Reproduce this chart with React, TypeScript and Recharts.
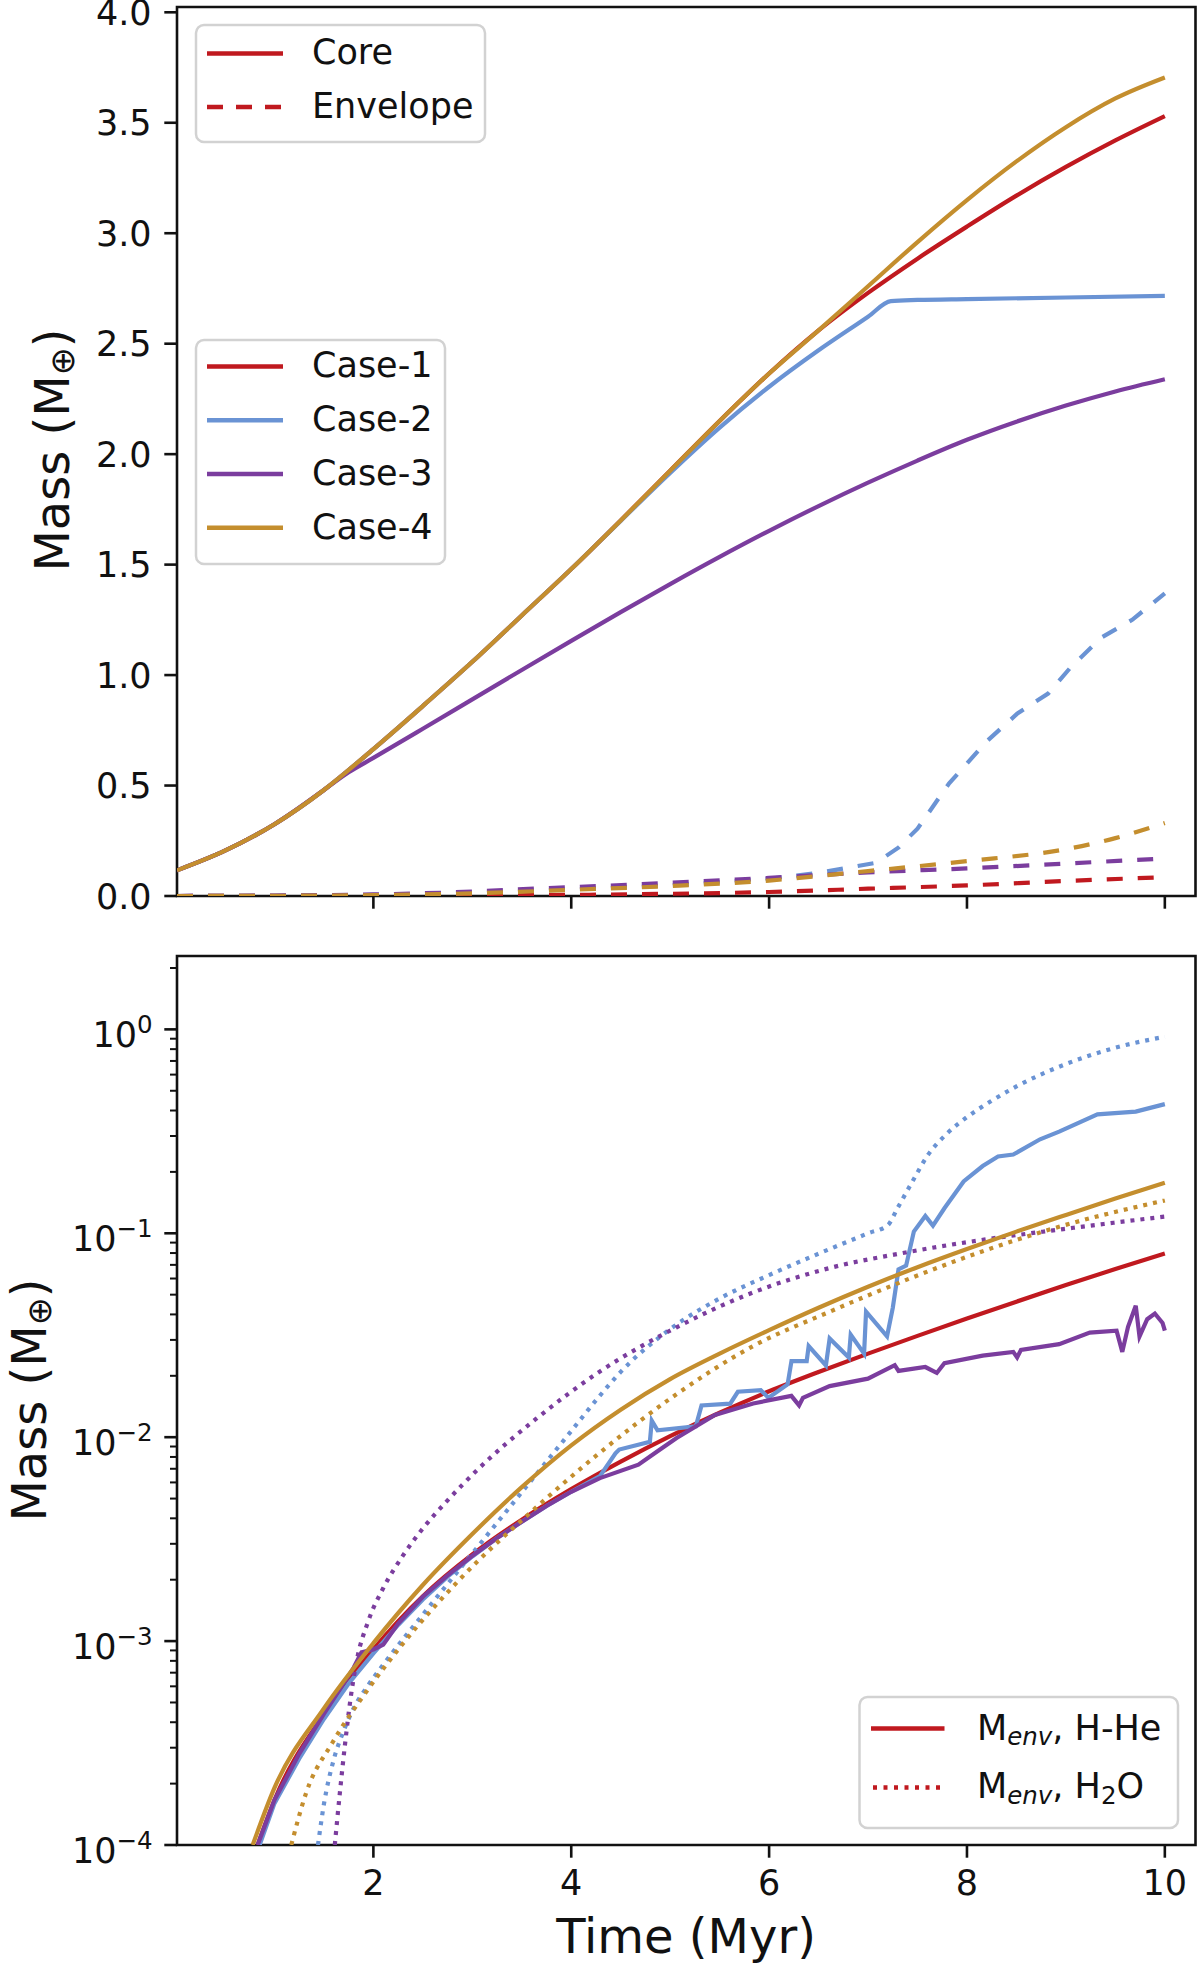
import React from 'react'
import { LineChart, Line, XAxis, YAxis, ReferenceArea } from 'recharts'

const FONT = 'DejaVu Sans'
const INK = '#111'
const RED = '#c0191f'
const BLUE = '#6a93d4'
const PURPLE = '#7b3d9e'
const GOLD = '#c48e2e'

const X_MIN = 0.015
const X_MAX = 10.31
const TOP_MAX = 4.024
const LOG_MIN = 1e-4
const LOG_MAX = 2.29

const timeTicks = [2, 4, 6, 8, 10]
const massTicks = [0, 0.5, 1, 1.5, 2, 2.5, 3, 3.5, 4]
const decades = [-4, -3, -2, -1, 0]
const mantissas = [1, 2, 3, 4, 5, 6, 7, 8, 9]
const logTicks = decades.flatMap((d) => mantissas.map((m) => m * 10 ** d)).filter((v) => v <= LOG_MAX)

// top panel, core mass [t (Myr), M_earth]
const core1 = [[0.015, 0.116], [0.5, 0.205], [1, 0.325], [1.5, 0.48], [2, 0.665], [2.5, 0.86], [3, 1.06], [3.5, 1.27], [4, 1.48], [4.5, 1.7], [5, 1.925], [5.5, 2.15], [6, 2.365], [6.5, 2.56], [7, 2.73], [7.5, 2.885], [8, 3.03], [8.5, 3.17], [9, 3.3], [9.5, 3.42], [10, 3.53]]
const core2 = [[0.015, 0.116], [0.5, 0.205], [1, 0.325], [1.5, 0.48], [2, 0.665], [2.5, 0.86], [3, 1.06], [3.5, 1.27], [4, 1.48], [4.5, 1.698], [5, 1.915], [5.5, 2.12], [6, 2.305], [6.5, 2.47], [7, 2.622], [7.23, 2.693], [7.5, 2.698], [8, 2.702], [9, 2.709], [10, 2.716]]
const core3 = [[0.015, 0.116], [0.5, 0.205], [1, 0.325], [1.5, 0.48], [1.75, 0.56], [2, 0.625], [2.5, 0.757], [3, 0.89], [3.5, 1.023], [4, 1.155], [4.5, 1.285], [5, 1.412], [5.5, 1.535], [6, 1.653], [6.5, 1.765], [7, 1.871], [7.5, 1.971], [8, 2.065], [8.5, 2.147], [9, 2.22], [9.5, 2.284], [10, 2.339]]
const core4 = [[0.015, 0.116], [0.5, 0.205], [1, 0.325], [1.5, 0.48], [2, 0.665], [2.5, 0.86], [3, 1.06], [3.5, 1.27], [4, 1.48], [4.5, 1.7], [5, 1.925], [5.5, 2.15], [6, 2.365], [6.5, 2.56], [7, 2.76], [7.5, 2.96], [8, 3.15], [8.5, 3.325], [9, 3.48], [9.5, 3.61], [10, 3.705]]

// top panel, envelope mass
const env1 = [[0.015, 0], [1, 0.001], [2, 0.002], [3, 0.003], [4, 0.005], [5, 0.01], [6, 0.018], [7, 0.033], [8, 0.048], [9, 0.068], [10, 0.085]]
const env2 = [[0.015, 0], [1, 0.001], [2, 0.005], [3, 0.015], [4, 0.03], [5, 0.048], [6, 0.078], [6.5, 0.105], [7.08, 0.15], [7.31, 0.22], [7.5, 0.305], [7.82, 0.51], [8.2, 0.7], [8.51, 0.826], [8.82, 0.916], [9.05, 1.036], [9.36, 1.17], [9.67, 1.25], [10, 1.37]]
const env3 = [[0.015, 0], [1, 0.002], [2, 0.007], [3, 0.02], [3.64, 0.034], [4, 0.04], [5, 0.06], [6, 0.082], [7, 0.107], [8, 0.125], [9, 0.147], [10, 0.17]]
const env4 = [[0.015, 0], [1, 0.001], [2, 0.004], [3, 0.012], [4, 0.028], [5, 0.045], [6, 0.07], [7, 0.113], [8, 0.158], [9, 0.212], [9.5, 0.262], [10, 0.33]]

// bottom panel, H-He envelope
const hhe1 = [[0.83, 1e-4], [1, 1.66e-4], [1.5, 4.37e-4], [2, 9.12e-4], [2.5, 1.66e-3], [3, 2.66e-3], [3.5, 3.94e-3], [4, 5.56e-3], [4.5, 7.59e-3], [5, 1.012e-2], [5.5, 1.318e-2], [6, 1.679e-2], [6.5, 2.089e-2], [7, 2.57e-2], [7.5, 3.14e-2], [8, 3.82e-2], [8.5, 4.62e-2], [9, 5.57e-2], [9.5, 6.68e-2], [10, 7.96e-2]]
const hhe2 = [[0.85, 1e-4], [1, 1.6e-4], [1.25, 2.65e-4], [1.5, 4.15e-4], [1.75, 6.2e-4], [2, 8.7e-4], [2.25, 1.2e-3], [2.5, 1.6e-3], [2.75, 2.07e-3], [3, 2.6e-3], [3.25, 3.2e-3], [3.5, 3.85e-3], [3.75, 4.6e-3], [4, 5.4e-3], [4.29, 6.44e-3], [4.447, 8.34e-3], [4.485, 8.7e-3], [4.795, 9.5e-3], [4.814, 1.205e-2], [4.872, 1.08e-2], [5.259, 1.13e-2], [5.317, 1.43e-2], [5.607, 1.46e-2], [5.684, 1.67e-2], [5.916, 1.7e-2], [5.994, 1.56e-2], [6.187, 1.815e-2], [6.226, 2.36e-2], [6.38, 2.36e-2], [6.4, 2.8e-2], [6.574, 2.25e-2], [6.612, 3.05e-2], [6.806, 2.46e-2], [6.825, 3.18e-2], [6.96, 2.57e-2], [6.98, 4.13e-2], [7.192, 3.12e-2], [7.25, 4.31e-2], [7.308, 6.65e-2], [7.385, 6.94e-2], [7.463, 0.102], [7.579, 0.1216], [7.656, 0.109], [7.772, 0.1327], [7.966, 0.1796], [8.159, 0.2136], [8.314, 0.2382], [8.468, 0.2432], [8.739, 0.289], [8.932, 0.3153], [9.319, 0.383], [9.706, 0.395], [10, 0.43]]
const hhe3 = [[0.83, 1e-4], [1, 1.66e-4], [1.25, 2.8e-4], [1.5, 4.4e-4], [1.7, 6.2e-4], [1.8, 7.4e-4], [1.88, 8.8e-4], [2, 9.1e-4], [2.1, 9.6e-4], [2.25, 1.22e-3], [2.5, 1.65e-3], [2.75, 2.1e-3], [3, 2.62e-3], [3.25, 3.2e-3], [3.5, 3.85e-3], [3.75, 4.6e-3], [4, 5.4e-3], [4.29, 6.3e-3], [4.679, 7.33e-3], [4.872, 8.53e-3], [5.065, 9.9e-3], [5.452, 1.285e-2], [5.839, 1.463e-2], [6.225, 1.595e-2], [6.303, 1.432e-2], [6.342, 1.56e-2], [6.612, 1.78e-2], [6.999, 1.937e-2], [7.27, 2.254e-2], [7.308, 2.113e-2], [7.579, 2.208e-2], [7.695, 2.066e-2], [7.772, 2.305e-2], [8.159, 2.51e-2], [8.468, 2.62e-2], [8.507, 2.46e-2], [8.546, 2.68e-2], [8.932, 2.86e-2], [9.242, 3.26e-2], [9.512, 3.33e-2], [9.57, 2.62e-2], [9.628, 3.48e-2], [9.706, 4.41e-2], [9.744, 3.12e-2], [9.822, 3.79e-2], [9.899, 4.04e-2], [9.977, 3.63e-2], [10, 3.33e-2]]
const hhe4 = [[0.78, 1e-4], [1, 1.905e-4], [1.5, 4.677e-4], [2, 9.772e-4], [2.5, 1.884e-3], [3, 3.35e-3], [3.5, 5.689e-3], [4, 9.12e-3], [4.5, 1.365e-2], [5, 1.928e-2], [5.5, 2.57e-2], [6, 3.35e-2], [6.5, 4.315e-2], [7, 5.47e-2], [7.5, 6.82e-2], [8, 8.375e-2], [8.5, 0.1019], [9, 0.123], [9.5, 0.148], [10, 0.177]]

// bottom panel, H2O envelope
const h2o2 = [[1.44, 1e-4], [1.5, 1.585e-4], [1.6, 2.63e-4], [1.7, 3.63e-4], [1.8, 4.68e-4], [1.95, 6.1e-4], [2.1, 7.67e-4], [2.5, 1.349e-3], [3, 2.69e-3], [3.5, 5.37e-3], [4, 1.072e-2], [4.29, 1.6e-2], [4.5, 2.09e-2], [5, 3.39e-2], [5.5, 4.79e-2], [6, 6.24e-2], [6.5, 7.94e-2], [7, 0.1], [7.2, 0.1096], [7.3, 0.1334], [7.45, 0.1799], [7.6, 0.2399], [7.8, 0.309], [8, 0.3715], [8.25, 0.4467], [8.5, 0.5248], [9, 0.676], [9.5, 0.813], [10, 0.92]]
const h2o3 = [[1.61, 1e-4], [1.66, 1.778e-4], [1.71, 3.02e-4], [1.77, 5.25e-4], [1.83, 7.94e-4], [1.95, 1.259e-3], [2.1, 1.82e-3], [2.3, 2.63e-3], [2.48, 3.47e-3], [2.75, 4.9e-3], [3.06, 6.98e-3], [3.64, 1.225e-2], [4.29, 2.1e-2], [5.06, 3.45e-2], [5.84, 5.13e-2], [6.61, 6.75e-2], [7.38, 8.05e-2], [8.16, 9.29e-2], [8.93, 0.1042], [10, 0.1208]]
const h2o4 = [[1.17, 1e-4], [1.32, 1.8e-4], [1.59, 3.2e-4], [1.9, 5.4e-4], [2.29, 9.6e-4], [2.87, 2.0e-3], [3.64, 4.5e-3], [4.29, 8.4e-3], [5.06, 1.62e-2], [5.84, 2.8e-2], [6.61, 4.12e-2], [7.38, 5.89e-2], [8.16, 8.17e-2], [8.93, 0.1076], [10, 0.145]]

const rows = (pts: number[][]) => pts.map(([t, v]) => ({ t, v }))

const TICK = 12.7
const MINOR = 7
const PAD = 12.7
const FS = 35

function MassTick({ x = 0, y = 0, payload }: any) {
  return (
    <g>
      <line x1={x - TICK} y1={y} x2={x} y2={y} stroke={INK} strokeWidth={2.6} />
      <text x={x - TICK - PAD} y={y + 12.6} textAnchor="end" fontSize={FS} fontFamily={FONT} fill={INK}>
        {Number(payload.value).toFixed(1)}
      </text>
    </g>
  )
}

function LogTick({ x = 0, y = 0, payload }: any) {
  const e = Math.log10(payload.value)
  const major = Math.abs(e - Math.round(e)) < 1e-6
  const p = Math.round(e)
  return (
    <g>
      <line x1={x - (major ? TICK : MINOR)} y1={y} x2={x} y2={y} stroke={INK} strokeWidth={major ? 2.6 : 2} />
      {major && (
        <text x={x - TICK - PAD + 1} y={y + 17.5} textAnchor="end" fontSize={FS} fontFamily={FONT} fill={INK}>
          10
          <tspan dy={-14} fontSize={24.5}>{p < 0 ? `\u2212${-p}` : `${p}`}</tspan>
        </text>
      )}
    </g>
  )
}

function TimeTick({ x = 0, y = 0, payload, label }: any) {
  return (
    <g>
      <line x1={x} y1={y} x2={x} y2={y + TICK} stroke={INK} strokeWidth={2.6} />
      {label && (
        <text x={x} y={y + 50} textAnchor="middle" fontSize={FS} fontFamily={FONT} fill={INK}>
          {payload.value}
        </text>
      )}
    </g>
  )
}

const solid = { dot: false, isAnimationActive: false, strokeWidth: 4.2 }
const dashed = { strokeDasharray: '16 15' }
const dotted = { strokeDasharray: '4 6' }

function TopPanel() {
  return (
    <LineChart width={1200} height={940} margin={{ top: 7, right: 4.5, bottom: 0, left: 0 }}>
      <XAxis
        dataKey="t"
        type="number"
        domain={[X_MIN, X_MAX]}
        allowDataOverflow
        ticks={timeTicks}
        interval={0}
        height={44}
        axisLine={false}
        tickLine={false}
        tickSize={0}
        tickMargin={0}
        tick={(p: any) => <TimeTick {...p} label={false} />}
      />
      <YAxis
        type="number"
        domain={[0, TOP_MAX]}
        allowDataOverflow
        ticks={massTicks}
        interval={0}
        width={177}
        axisLine={false}
        tickLine={false}
        tickSize={0}
        tickMargin={0}
        tick={(p: any) => <MassTick {...p} />}
      />
      <Line data={rows(core1)} dataKey="v" type="monotone" stroke={RED} {...solid} />
      <Line data={rows(env1)} dataKey="v" type="monotone" stroke={RED} {...solid} {...dashed} />
      <Line data={rows(core2)} dataKey="v" type="monotone" stroke={BLUE} {...solid} />
      <Line data={rows(env2)} dataKey="v" type="linear" stroke={BLUE} {...solid} {...dashed} />
      <Line data={rows(core3)} dataKey="v" type="monotone" stroke={PURPLE} {...solid} />
      <Line data={rows(env3)} dataKey="v" type="monotone" stroke={PURPLE} {...solid} {...dashed} />
      <Line data={rows(core4)} dataKey="v" type="monotone" stroke={GOLD} {...solid} />
      <Line data={rows(env4)} dataKey="v" type="monotone" stroke={GOLD} {...solid} {...dashed} />
      <ReferenceArea x1={X_MIN} x2={X_MAX} y1={0} y2={TOP_MAX} fill="none" stroke={INK} strokeWidth={2.6} ifOverflow="visible" />
    </LineChart>
  )
}

function BottomPanel() {
  return (
    <LineChart width={1200} height={1026} margin={{ top: 16, right: 4.5, bottom: 0, left: 0 }}>
      <XAxis
        dataKey="t"
        type="number"
        domain={[X_MIN, X_MAX]}
        allowDataOverflow
        ticks={timeTicks}
        interval={0}
        height={121}
        axisLine={false}
        tickLine={false}
        tickSize={0}
        tickMargin={0}
        tick={(p: any) => <TimeTick {...p} label />}
      />
      <YAxis
        type="number"
        scale="log"
        domain={[LOG_MIN, LOG_MAX]}
        allowDataOverflow
        ticks={logTicks}
        interval={0}
        width={177}
        axisLine={false}
        tickLine={false}
        tickSize={0}
        tickMargin={0}
        tick={(p: any) => <LogTick {...p} />}
      />
      <Line data={rows(hhe1)} dataKey="v" type="monotone" stroke={RED} {...solid} />
      <Line data={rows(hhe2)} dataKey="v" type="linear" stroke={BLUE} {...solid} />
      <Line data={rows(h2o2)} dataKey="v" type="monotone" stroke={BLUE} {...solid} {...dotted} />
      <Line data={rows(hhe3)} dataKey="v" type="linear" stroke={PURPLE} {...solid} />
      <Line data={rows(h2o3)} dataKey="v" type="monotone" stroke={PURPLE} {...solid} {...dotted} />
      <Line data={rows(hhe4)} dataKey="v" type="monotone" stroke={GOLD} {...solid} />
      <Line data={rows(h2o4)} dataKey="v" type="monotone" stroke={GOLD} {...solid} {...dotted} />
      <ReferenceArea x1={X_MIN} x2={X_MAX} y1={LOG_MIN} y2={LOG_MAX} fill="none" stroke={INK} strokeWidth={2.6} ifOverflow="visible" />
    </LineChart>
  )
}

const coreLegend = [
  { label: 'Core', dash: undefined },
  { label: 'Envelope', dash: '16 13' },
]
const caseLegend = [
  { label: 'Case-1', color: RED },
  { label: 'Case-2', color: BLUE },
  { label: 'Case-3', color: PURPLE },
  { label: 'Case-4', color: GOLD },
]

function Overlay() {
  const txt = { fontFamily: FONT, fontSize: FS, fill: INK }
  return (
    <svg width={1200} height={1966} style={{ position: 'absolute', left: 0, top: 0, pointerEvents: 'none' }}>
      {/* legend: core / envelope */}
      <rect x={196} y={25} width={289} height={117} rx={8} fill="#fff" fillOpacity={0.8} stroke="#d2d2d2" strokeWidth={2.5} />
      {coreLegend.map((e, i) => (
        <g key={e.label}>
          <line x1={207} x2={283} y1={53.6 + i * 53.4} y2={53.6 + i * 53.4} stroke={RED} strokeWidth={4.5} strokeDasharray={e.dash} />
          <text x={312} y={64.4 + i * 53.4} {...txt}>{e.label}</text>
        </g>
      ))}
      {/* legend: cases */}
      <rect x={196} y={340} width={249} height={224} rx={8} fill="#fff" fillOpacity={0.8} stroke="#d2d2d2" strokeWidth={2.5} />
      {caseLegend.map((e, i) => (
        <g key={e.label}>
          <line x1={207} x2={283} y1={366.6 + i * 53.7} y2={366.6 + i * 53.7} stroke={e.color} strokeWidth={4.5} />
          <text x={312} y={377.4 + i * 53.7} {...txt}>{e.label}</text>
        </g>
      ))}
      {/* legend: envelope composition */}
      <rect x={859.5} y={1697} width={318.5} height={131} rx={8} fill="#fff" fillOpacity={0.8} stroke="#d2d2d2" strokeWidth={2.5} />
      <line x1={871} x2={944.5} y1={1728.5} y2={1728.5} stroke={RED} strokeWidth={4.5} />
      <text x={977} y={1739.5} {...txt}>
        M<tspan fontSize={24.5} fontStyle="italic" dy={5.5}>env</tspan>
        <tspan dy={-5.5}>, H-He</tspan>
      </text>
      <line x1={873} x2={944.5} y1={1787.4} y2={1787.4} stroke={RED} strokeWidth={4.5} strokeDasharray="4 6.5" />
      <text x={977} y={1798.4} {...txt}>
        M<tspan fontSize={24.5} fontStyle="italic" dy={5.5}>env</tspan>
        <tspan dy={-5.5}>, H</tspan>
        <tspan fontSize={24.5} dy={5.5}>2</tspan>
        <tspan dy={-5.5}>O</tspan>
      </text>
      {/* axis titles */}
      <text transform="translate(69,450) rotate(-90)" textAnchor="middle" fontFamily={FONT} fontSize={48} fill={INK}>
        Mass (M<tspan fontSize={33.6} dy={5}>⊕</tspan>
        <tspan dy={-5}>)</tspan>
      </text>
      <text transform="translate(46,1400) rotate(-90)" textAnchor="middle" fontFamily={FONT} fontSize={48} fill={INK}>
        Mass (M<tspan fontSize={33.6} dy={5}>⊕</tspan>
        <tspan dy={-5}>)</tspan>
      </text>
      <text x={686} y={1953} textAnchor="middle" fontFamily={FONT} fontSize={48} fill={INK}>
        Time (Myr)
      </text>
    </svg>
  )
}

export default function App() {
  return (
    <div style={{ position: 'absolute', left: 0, top: 0, width: 1200, height: 1966, background: '#fff', overflow: 'hidden' }}>
      <div style={{ position: 'absolute', left: 0, top: 0 }}>
        <TopPanel />
      </div>
      <div style={{ position: 'absolute', left: 0, top: 940 }}>
        <BottomPanel />
      </div>
      <Overlay />
    </div>
  )
}
